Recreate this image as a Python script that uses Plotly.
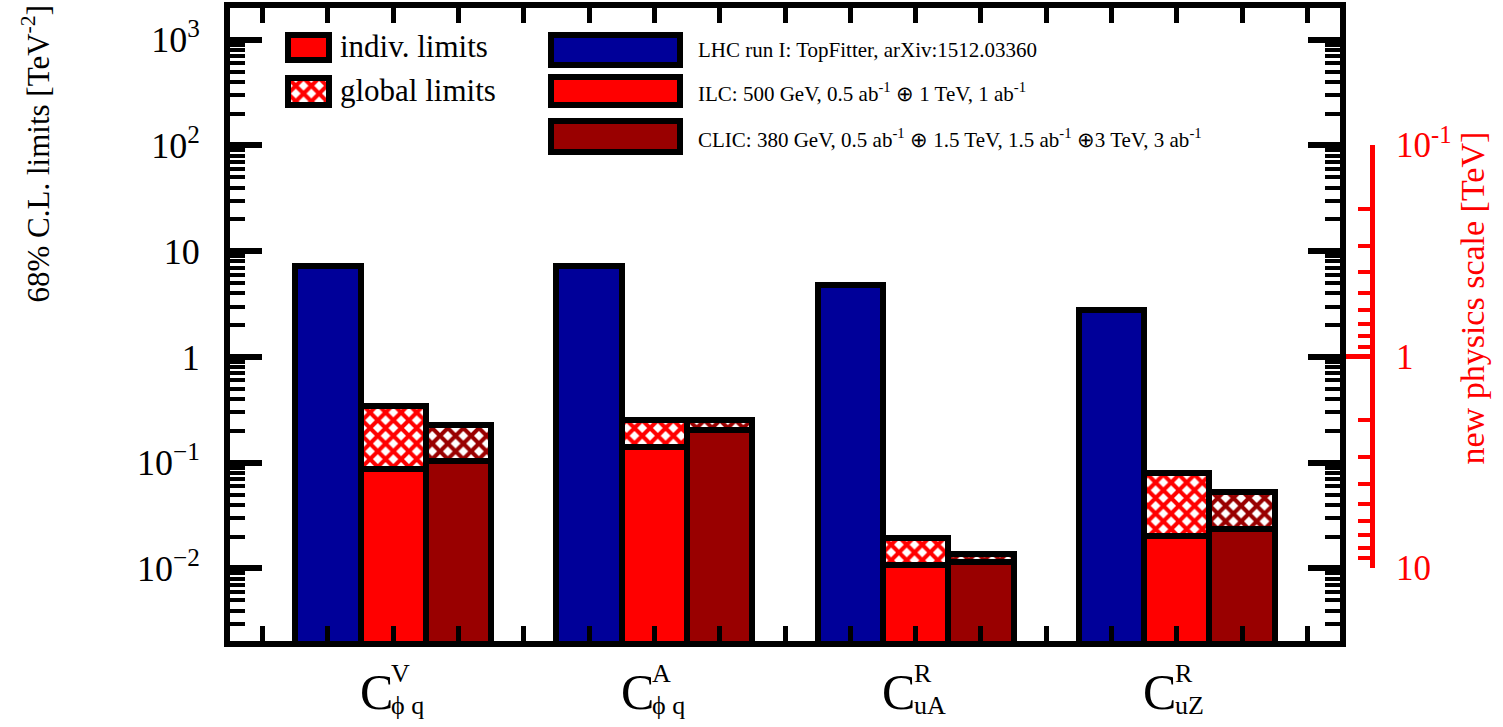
import plotly.graph_objects as go

# ---------------- data ----------------
categories = ["V_phiq", "A_phiq", "R_uA", "R_uZ"]
label_sup = ["V", "A", "R", "R"]
label_sub = ["ϕ q", "ϕ q", "uA", "uZ"]
lhc = [7.3, 7.3, 4.8, 2.8]
ilc_indiv = [0.087, 0.141, 0.0108, 0.0203]
ilc_global = [0.344, 0.254, 0.0196, 0.080]
clic_indiv = [0.103, 0.204, 0.0115, 0.0234]
clic_global = [0.225, 0.254, 0.0136, 0.053]

left_tickvals = [1e-2, 1e-1, 1, 10, 1e2, 1e3]
left_ticktext = ["10<sup>−2</sup>", "10<sup>−1</sup>", "1", "10", "10<sup>2</sup>", "10<sup>3</sup>"]
right_tickvals = [0.1, 1, 10]
right_ticktext = ["10<sup>-1</sup>", "1", "10"]

BLUE = "#000099"
RED = "#ff0000"
DRED = "#990000"
FONT = "Liberation Serif"

# ---------------- geometry helpers ----------------
W_FIG, H_FIG = 1503, 727
L, T = 230, 8
PAPER_R = 1380
B_PLOT = 641
PW = PAPER_R - L
PH = B_PLOT - T


def px(x):
    return (x - L) / PW


def py(y):
    return (B_PLOT - y) / PH


n = len(categories)
centers = [4 * i + 2 for i in range(n)]
x_blue = [c - 1 for c in centers]
x_red = centers
x_dred = [c + 1 for c in centers]

outline = dict(color="black", width=6)
hatch_red = dict(shape="x", fgcolor=RED, bgcolor="white", size=11, solidity=0.6, fgopacity=1)
hatch_dred = dict(shape="x", fgcolor=DRED, bgcolor="white", size=11, solidity=0.6, fgopacity=1)

fig = go.Figure()
fig.add_bar(x=x_blue, y=lhc, width=1, marker=dict(color=BLUE, line=outline),
            showlegend=False, hoverinfo="skip")
fig.add_bar(x=x_red, y=ilc_global, width=1,
            marker=dict(color="white", line=outline, pattern=hatch_red),
            showlegend=False, hoverinfo="skip")
fig.add_bar(x=x_dred, y=clic_global, width=1,
            marker=dict(color="white", line=outline, pattern=hatch_dred),
            showlegend=False, hoverinfo="skip")
fig.add_bar(x=x_red, y=ilc_indiv, width=1, marker=dict(color=RED, line=outline),
            showlegend=False, hoverinfo="skip")
fig.add_bar(x=x_dred, y=clic_indiv, width=1, marker=dict(color=DRED, line=outline),
            showlegend=False, hoverinfo="skip")

# dummy trace for right axis
fig.add_scatter(x=[0], y=[1], yaxis="y2", mode="markers", marker=dict(opacity=0),
                showlegend=False, hoverinfo="skip")

# hatched legend box on an auxiliary axis
fig.add_bar(x=[0], y=[1], width=1, xaxis="x3", yaxis="y3",
            marker=dict(color="white", line=dict(width=0), pattern=hatch_red),
            showlegend=False, hoverinfo="skip")

minor_left = [k * 10 ** e for e in range(-3, 4) for k in range(2, 10)]
minor_right = [k * 10 ** e for e in range(-1, 1) for k in range(2, 10)]

fig.update_layout(
    width=W_FIG, height=H_FIG,
    margin=dict(l=L, r=W_FIG - PAPER_R, t=T, b=H_FIG - B_PLOT, autoexpand=False),
    paper_bgcolor="white", plot_bgcolor="rgba(0,0,0,0)",
    barmode="overlay", bargap=0,
    font=dict(family=FONT, color="black"),
    xaxis=dict(domain=[0, px(1340)], range=[-0.5, 16.5], tickvals=list(range(17)),
               ticks="inside", ticklen=15, tickwidth=5, tickcolor="black",
               showticklabels=False, showline=True, linewidth=6, linecolor="black",
               mirror="ticks", showgrid=False, zeroline=False, fixedrange=True),
    yaxis=dict(type="log", range=[-2.686, 3.30], tickmode="array",
               tickvals=left_tickvals, ticktext=left_ticktext,
               ticks="inside", ticklen=32, tickwidth=6, tickcolor="black",
               minor=dict(ticks="inside", ticklen=15, tickwidth=4, tickcolor="black",
                          tickmode="array", tickvals=minor_left, showgrid=False),
               showline=True, linewidth=6, linecolor="black", mirror="ticks",
               showgrid=False, zeroline=False, ticklabelstandoff=17,
               tickfont=dict(family=FONT, size=36, color="black")),
    yaxis2=dict(type="log", domain=[py(568), py(145)], range=[1, -1], anchor="free",
                position=px(1372), side="right", tickmode="array",
                tickvals=right_tickvals, ticktext=right_ticktext,
                ticks="inside", ticklen=24, tickwidth=5, tickcolor=RED,
                minor=dict(ticks="inside", ticklen=12, tickwidth=4, tickcolor=RED,
                           tickmode="array", tickvals=minor_right, showgrid=False),
                showline=True, linewidth=5, linecolor=RED, showgrid=False, zeroline=False,
                ticklabelstandoff=14,
                tickfont=dict(family=FONT, size=35, color=RED)),
    xaxis3=dict(domain=[px(288), px(329)], range=[-0.5, 0.5], anchor="y3", visible=False,
                fixedrange=True),
    yaxis3=dict(domain=[py(105), py(78)], range=[0, 1], anchor="x3", visible=False,
                fixedrange=True),
)

shapes = []
# left legend solid box
shapes.append(dict(type="rect", xref="paper", yref="paper", x0=px(288), x1=px(329),
                   y0=py(60), y1=py(35), fillcolor=RED, line=dict(color="black", width=6)))
# outline of hatched legend box
shapes.append(dict(type="rect", xref="paper", yref="paper", x0=px(288), x1=px(329),
                   y0=py(105), y1=py(78), fillcolor="rgba(0,0,0,0)",
                   line=dict(color="black", width=6)))
# right legend boxes
for (yt, yb, col) in [(35, 65, BLUE), (77, 105, RED), (121, 152, DRED)]:
    shapes.append(dict(type="rect", xref="paper", yref="paper", x0=px(551), x1=px(680),
                       y0=py(yb), y1=py(yt), fillcolor=col, line=dict(color="black", width=6)))
fig.update_layout(shapes=shapes)

ann = []
ann.append(dict(text="indiv. limits", x=px(338), y=py(47), xref="paper", yref="paper",
                xanchor="left", yanchor="middle", showarrow=False,
                font=dict(family=FONT, size=31, color="black")))
ann.append(dict(text="global limits", x=px(338), y=py(91), xref="paper", yref="paper",
                xanchor="left", yanchor="middle", showarrow=False,
                font=dict(family=FONT, size=31, color="black")))
leg_txt = ["LHC run I: TopFitter, arXiv:1512.03360",
           "ILC: 500 GeV, 0.5 ab<sup>-1</sup> ⊕ 1 TeV, 1 ab<sup>-1</sup>",
           "CLIC: 380 GeV, 0.5 ab<sup>-1</sup> ⊕ 1.5 TeV, 1.5 ab<sup>-1</sup> ⊕3 TeV, 3 ab<sup>-1</sup>"]
for t, yc in zip(leg_txt, [50, 92, 138]):
    ann.append(dict(text=t, x=px(696), y=py(yc), xref="paper", yref="paper",
                    xanchor="left", yanchor="middle", showarrow=False,
                    font=dict(family=FONT, size=21, color="black")))

# axis titles
ann.append(dict(text="68% C.L. limits [TeV<sup>-2</sup>]", textangle=-90,
                x=px(36), y=py(4), xref="paper", yref="paper",
                xanchor="center", yanchor="top", showarrow=False,
                font=dict(family=FONT, size=31, color="black")))
ann.append(dict(text="new physics scale [TeV]", textangle=-90,
                x=px(1472), y=py(130), xref="paper", yref="paper",
                xanchor="center", yanchor="top", showarrow=False,
                font=dict(family=FONT, size=34, color=RED)))

# category labels
for c, sup, sub in zip(centers, label_sup, label_sub):
    ann.append(dict(text="C", x=c, y=py(692), xref="x", yref="paper", xshift=-17,
                    xanchor="center", yanchor="middle", showarrow=False,
                    font=dict(family=FONT, size=50, color="black")))
    ann.append(dict(text=sup, x=c, y=py(673), xref="x", yref="paper", xshift=-4,
                    xanchor="left", yanchor="middle", showarrow=False,
                    font=dict(family=FONT, size=26, color="black")))
    ann.append(dict(text=sub, x=c, y=py(705), xref="x", yref="paper", xshift=-4,
                    xanchor="left", yanchor="middle", showarrow=False,
                    font=dict(family=FONT, size=26, color="black")))
fig.update_layout(annotations=ann)

fig.write_html("out.html", config={"displayModeBar": False},
               post_script="document.body.style.margin='0px';")
